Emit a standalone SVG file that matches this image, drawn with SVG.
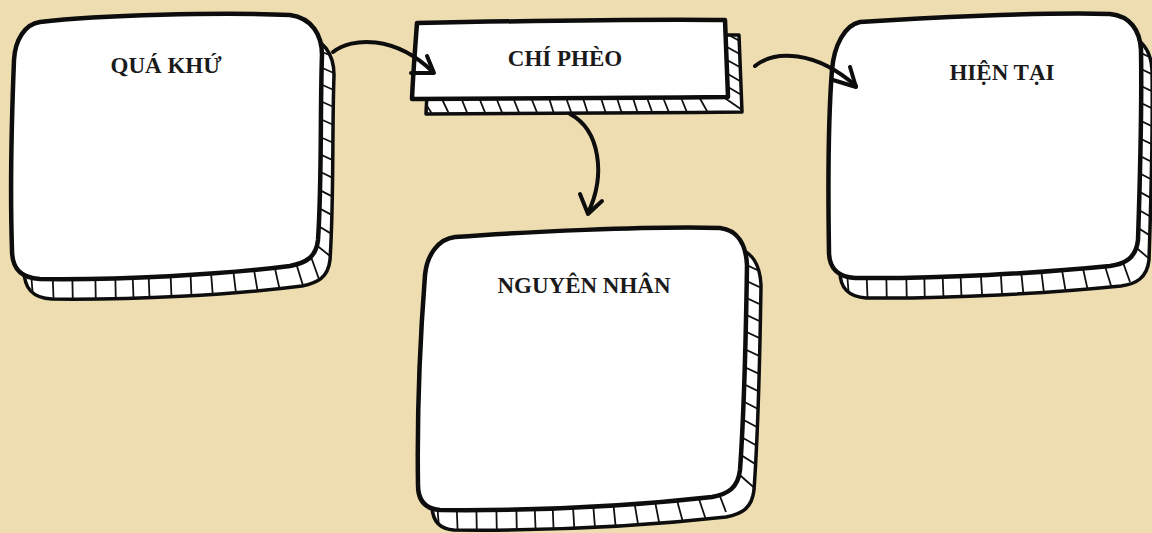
<svg xmlns="http://www.w3.org/2000/svg" width="1152" height="533" viewBox="0 0 1152 533">
<defs>
<style>
.face{fill:#ffffff;stroke:#0d0d0d;stroke-width:4.5;stroke-linejoin:round}
.ext{fill:#ffffff;stroke:#0d0d0d;stroke-width:3.5;stroke-linejoin:round}
.hatch{stroke:#111;stroke-width:1.8;fill:none}
.lbl{font-family:"Liberation Serif","Times New Roman",serif;font-weight:bold;font-size:23px;fill:#1a1a1a;text-anchor:middle}
.arr{fill:none;stroke:#0d0d0d;stroke-width:4;stroke-linecap:round;stroke-linejoin:round}
</style>
<path id="f1" d="M 40 22 C 100 15, 220 12, 290 15 C 312 18, 322 35, 322 55 C 320 110, 322 180, 318 240 C 316 258, 305 263, 290 266 C 220 275, 120 280, 40 279 C 20 278, 12 268, 12 250 C 10 190, 12 110, 14 60 C 15 40, 25 24, 40 22 Z"/>
<path id="f2" d="M 417 23 C 520 21, 640 19, 725 20 C 726 45, 727 70, 728 97 C 620 98, 510 99, 412 99 C 413 75, 415 50, 417 23 Z"/>
<path id="f3" d="M 860 22 C 920 18, 1040 12, 1110 14 C 1130 16, 1140 30, 1141 50 C 1142 110, 1140 180, 1138 240 C 1136 258, 1125 264, 1110 266 C 1040 273, 940 279, 855 278 C 838 277, 829 268, 829 252 C 828 190, 828 120, 832 70 C 834 45, 845 25, 860 22 Z"/>
<path id="f4" d="M 455 237 C 520 232, 650 226, 720 228 C 738 230, 746 245, 747 265 C 746 330, 745 400, 740 470 C 738 488, 728 494, 712 497 C 640 505, 540 511, 440 510 C 425 509, 418 500, 418 485 C 417 420, 420 340, 425 275 C 427 255, 438 239, 455 237 Z"/>
<clipPath id="c1"><use href="#f1" transform="translate(12,20)"/></clipPath>
<clipPath id="c2"><use href="#f2" transform="translate(14,15)"/></clipPath>
<clipPath id="c3"><use href="#f3" transform="translate(11,20)"/></clipPath>
<clipPath id="c4"><use href="#f4" transform="translate(14,20)"/></clipPath>
</defs>
<rect x="0" y="0" width="1152" height="533" fill="#efddb2"/>

<g id="node-qua-khu">
<use href="#f1" class="ext" transform="translate(12,20)"/>
<g clip-path="url(#c1)" class="hatch">
<path d="M30 260 L34 310 M52 260 L54 310 M72 260 L73 310 M95 260 L96 310 M115 260 L116 310 M132 260 L134 310 M148 260 L150 310 M170 260 L172 310 M190 260 L192 310 M210 260 L214 310 M232 260 L238 310 M252 258 L260 305 M272 255 L282 300 M292 250 L305 292 M305 240 L320 282 M300 232 L345 268 M300 215 L345 242 M300 198 L345 222 M300 180 L345 203 M300 162 L345 184 M300 145 L345 166 M300 128 L345 148 M300 110 L345 130 M300 92 L345 112 M300 75 L345 95 M300 58 L345 78 M300 42 L345 62"/>
</g>
<use href="#f1" class="face"/>
<text class="lbl" x="166" y="73">QUÁ KHỨ</text>
</g>

<g id="node-chi-pheo">
<use href="#f2" class="ext" transform="translate(14,15)"/>
<g clip-path="url(#c2)" class="hatch">
<path d="M420 95 L436 120 M440 95 L452 120 M460 95 L470 120 M478 95 L488 120 M495 95 L505 120 M512 95 L522 120 M530 95 L540 120 M548 95 L556 120 M565 95 L574 120 M582 95 L590 120 M600 95 L608 120 M616 95 L624 120 M632 95 L640 120 M646 95 L655 120 M662 95 L672 120 M680 95 L690 120 M698 95 L712 120 M716 92 L745 112 M716 80 L745 97 M716 67 L745 84 M716 54 L745 70 M716 41 L745 57 M716 28 L745 44"/>
</g>
<use href="#f2" class="face"/>
<text class="lbl" x="565" y="66">CHÍ PHÈO</text>
</g>

<g id="node-hien-tai">
<use href="#f3" class="ext" transform="translate(11,20)"/>
<g clip-path="url(#c3)" class="hatch">
<path d="M846 260 L850 310 M866 260 L868 310 M886 260 L887 310 M906 260 L907 310 M924 260 L925 310 M942 260 L944 310 M960 260 L962 310 M980 260 L983 310 M1000 260 L1003 310 M1020 260 L1025 310 M1040 260 L1046 310 M1060 258 L1068 305 M1080 255 L1090 300 M1100 250 L1113 292 M1115 240 L1130 282 M1118 232 L1160 268 M1118 215 L1160 242 M1118 198 L1160 222 M1118 180 L1160 203 M1118 162 L1160 184 M1118 145 L1160 166 M1118 128 L1160 148 M1118 110 L1160 130 M1118 92 L1160 112 M1118 75 L1160 95 M1118 58 L1160 78 M1118 42 L1160 62"/>
</g>
<use href="#f3" class="face"/>
<text class="lbl" x="1002" y="80">HIỆN TẠI</text>
</g>

<g id="node-nguyen-nhan">
<use href="#f4" class="ext" transform="translate(14,20)"/>
<g clip-path="url(#c4)" class="hatch">
<path d="M436 490 L440 540 M456 490 L458 540 M476 490 L477 540 M496 490 L497 540 M516 490 L517 540 M534 490 L536 540 M552 490 L554 540 M572 490 L575 540 M592 490 L596 540 M612 490 L617 540 M632 488 L640 536 M652 486 L661 532 M672 482 L684 526 M692 478 L706 520 M710 470 L726 512 M725 462 L768 500 M725 445 L768 472 M725 428 L768 452 M725 410 L768 433 M725 392 L768 414 M725 375 L768 396 M725 358 L768 378 M725 340 L768 360 M725 322 L768 342 M725 305 L768 325 M725 288 L768 308 M725 271 L768 291 M725 255 L768 275"/>
</g>
<use href="#f4" class="face"/>
<text class="lbl" x="584" y="293">NGUYÊN NHÂN</text>
</g>

<g id="connectors">
<path class="arr" d="M 333 52 C 352 37, 395 35, 433 72"/>
<path class="arr" d="M 427 56 L 434 73 L 411 73"/>
<path class="arr" d="M 570 114 C 600 130, 606 175, 588 213"/>
<path class="arr" d="M 580 194 L 588 214 L 602 201"/>
<path class="arr" d="M 755 66 C 775 50, 815 50, 856 86"/>
<path class="arr" d="M 850 67 L 856 87 L 833 80"/>
</g>
</svg>
